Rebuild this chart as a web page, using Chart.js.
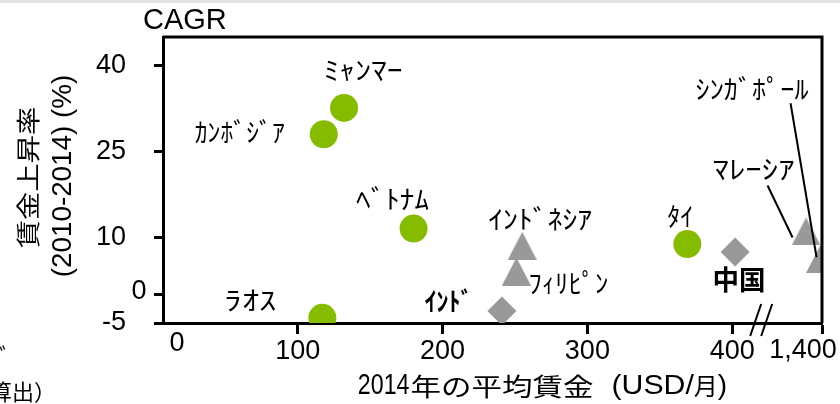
<!DOCTYPE html>
<html>
<head>
<meta charset="utf-8">
<script src="https://cdn.jsdelivr.net/npm/chart.js@4.4.1/dist/chart.umd.min.js"></script>
<style>
  html, body { margin: 0; padding: 0; background: #fff; }
  #wrap { position: relative; width: 840px; height: 404px; }
</style>
</head>
<body>
<div id="wrap"><canvas id="c"></canvas></div>
<script>
// ---- data: 2014 average monthly wage (USD) vs. wage CAGR 2010-2014 (%) ----
const circleCountries = ['ﾐｬﾝﾏｰ', 'ｶﾝﾎﾞｼﾞｱ', 'ﾍﾞﾄﾅﾑ', 'ﾗｵｽ', 'ﾀｲ'];
const circleWages     = [132, 118, 180, 117, 369];
const circleGrowth    = [32.6, 28.0, 11.5, -4.1, 8.8];

const triangleCountries = ['ｲﾝﾄﾞﾈｼｱ', 'ﾌｨﾘﾋﾟﾝ', 'ﾏﾚｰｼｱ', 'ｼﾝｶﾞﾎﾟｰﾙ'];
const triangleWages     = [255, 251, 1389, 1399];
const triangleGrowth    = [8.5, 4.0, 11.0, 6.2];

const diamondCountries = ['中国', 'ｲﾝﾄﾞ'];
const diamondWages     = [402, 241];
const diamondGrowth    = [7.4, -2.9];

const xTickValues = [100, 200, 300, 400, 1400];
const yTickValues = [-5, 0, 10, 25, 40];

// ---- broken x axis: everything above the break is shifted left by GAP ----
const GAP = 938;
const BREAK_AT = 420;
const toAxis = w => (w > 1000 ? w - GAP : w);
const fromAxis = v => (v > BREAK_AT + 5 ? v + GAP : v);

const GREEN = '#86bc00';
const GRAY = '#999999';
const LATIN = '"Liberation Sans", Arial, sans-serif';
const CJK = '"Noto Sans CJK JP", sans-serif';

// label placement around each marker (pixels from the marker centre)
const labelStyle = {
  'ﾐｬﾝﾏｰ':     { dx: 19,    dy: -37.5, w: 79 },
  'ｶﾝﾎﾞｼﾞｱ':   { dx: -84,   dy: -2.5,  w: 90 },
  'ﾍﾞﾄﾅﾑ':     { dx: -21,   dy: -29,   w: 73 },
  'ﾗｵｽ':       { dx: -72,   dy: -18,   w: 52 },
  'ﾀｲ':        { dx: -7,    dy: -28,   w: 26 },
  'ｲﾝﾄﾞﾈｼｱ':   { dx: 18,    dy: -26.5, w: 104 },
  'ﾌｨﾘﾋﾟﾝ':    { dx: 52,    dy: 12,    w: 80 },
  'ﾏﾚｰｼｱ':     { dx: -52.5, dy: -62,   w: 82,  leader: [-38.5, -46, -13.5, 6] },
  'ｼﾝｶﾞﾎﾟｰﾙ':  { dx: -68.5, dy: -170,  w: 113, leader: [-30, -155.7, -4, -1.7] },
  '中国':       { dx: 4,     dy: 28,    w: 53,  bold: true, size: 27 },
  'ｲﾝﾄﾞ':      { dx: -53.5, dy: -10,   w: 48,  bold: true }
};

// isosceles triangle marker
function makeTriangle(w, h, color) {
  const c = document.createElement('canvas');
  c.width = w; c.height = h;
  const g = c.getContext('2d');
  g.fillStyle = color;
  g.beginPath();
  g.moveTo(w / 2, 0);
  g.lineTo(w, h);
  g.lineTo(0, h);
  g.closePath();
  g.fill();
  return c;
}
const triangleMarker = makeTriangle(29, 28, GRAY);

// draw a sequence of text runs, each with its own font and horizontal scale
function drawRuns(ctx, runs, x, y, align, angle) {
  ctx.save();
  let total = 0;
  const widths = runs.map(r => {
    ctx.font = r.font;
    const w = ctx.measureText(r.t).width * (r.sx || 1);
    total += (r.gap || 0) + w;
    return w;
  });
  ctx.translate(x, y);
  if (angle) ctx.rotate(angle);
  ctx.textBaseline = 'middle';
  ctx.textAlign = 'left';
  ctx.fillStyle = '#000';
  let cur = align === 'center' ? -total / 2 : (align === 'right' ? -total : 0);
  runs.forEach((r, i) => {
    cur += r.gap || 0;
    ctx.save();
    ctx.font = r.font;
    ctx.translate(cur, 0);
    ctx.scale(r.sx || 1, 1);
    ctx.fillText(r.t, 0, 0);
    ctx.restore();
    cur += widths[i];
  });
  ctx.restore();
}

// text fitted to a given width
function drawFitted(ctx, text, x, y, font, width) {
  ctx.save();
  ctx.font = font;
  const sx = width / ctx.measureText(text).width;
  ctx.restore();
  drawRuns(ctx, [{ t: text, font: font, sx: sx }], x, y, 'center', 0);
}

const decorations = {
  id: 'decorations',
  beforeDraw(chart) {
    const ctx = chart.ctx;
    ctx.save();
    ctx.fillStyle = '#e1e1e1';
    ctx.fillRect(0, 0, chart.width, 3);
    ctx.restore();
  },
  afterDatasetsDraw(chart) {
    const ctx = chart.ctx;
    const a = chart.chartArea;
    const xs = chart.scales.x;
    const ys = chart.scales.y;

    // top and right frame
    ctx.save();
    ctx.strokeStyle = '#000';
    ctx.lineWidth = 3;
    ctx.beginPath();
    ctx.moveTo(a.left, a.top);
    ctx.lineTo(a.right, a.top);
    ctx.lineTo(a.right, a.bottom);
    ctx.stroke();

    // axis break marks
    const bx = xs.getPixelForValue(BREAK_AT);
    ctx.lineWidth = 2;
    [-5.5, 5.5].forEach(k => {
      ctx.beginPath();
      ctx.moveTo(bx + k - 5.5, a.bottom + 13);
      ctx.lineTo(bx + k + 5.5, a.bottom - 19);
      ctx.stroke();
    });
    ctx.restore();

    // country labels and leader lines
    const groups = [
      [circleCountries, 0],
      [triangleCountries, 1],
      [diamondCountries, 2]
    ];
    groups.forEach(([names, di]) => {
      const meta = chart.getDatasetMeta(di);
      names.forEach((name, i) => {
        const pt = meta.data[i];
        const s = labelStyle[name];
        const font = (s.bold ? 'bold ' : '') + (s.size || 26) + 'px ' + CJK;
        drawFitted(ctx, name, pt.x + s.dx, pt.y + s.dy, font, s.w);
        if (s.leader) {
          ctx.save();
          ctx.strokeStyle = '#000';
          ctx.lineWidth = 2;
          ctx.beginPath();
          ctx.moveTo(pt.x + s.leader[0], pt.y + s.leader[1]);
          ctx.lineTo(pt.x + s.leader[2], pt.y + s.leader[3]);
          ctx.stroke();
          ctx.restore();
        }
      });
    });

    // origin labels and the last tick label beyond the break
    drawRuns(ctx, [{ t: '0', font: '27px ' + LATIN }], a.left + 14, a.bottom + 21, 'center', 0);
    drawRuns(ctx, [{ t: '0', font: '27px ' + LATIN }], a.left - 24, ys.getPixelForValue(0) - 3, 'center', 0);
    drawRuns(ctx, [{ t: fromAxis(xs.max).toLocaleString('en-US'), font: '27px ' + LATIN }],
      xs.getPixelForValue(xs.max) - 19, a.bottom + 28, 'center', 0);

    // unit label
    drawRuns(ctx, [{ t: 'CAGR', font: '29px ' + LATIN }], 143, 21, 'left', 0);

    // x axis title
    drawRuns(ctx, [
      { t: '2014', font: '29px ' + LATIN, sx: 0.8 },
      { t: '年の平均賃金', font: '25px ' + CJK, sx: 1.22, gap: 1 },
      { t: '(USD/', font: '28px ' + LATIN, sx: 1.08, gap: 18 },
      { t: '月', font: '24px ' + CJK },
      { t: ')', font: '28px ' + LATIN }
    ], 542.5, 386, 'center', 0);

    // y axis title (two rotated lines)
    drawRuns(ctx, [{ t: '賃金上昇率', font: '24px ' + CJK, sx: 1.18 }], 27.5, 177.5, 'center', -Math.PI / 2);
    drawRuns(ctx, [{ t: '(2010-2014) (%)', font: '27px ' + LATIN, sx: 1.03 }], 64, 176, 'center', -Math.PI / 2);

    // source note (cut at the left edge)
    drawRuns(ctx, [{ t: 'ﾊﾞ', font: '24px ' + CJK }], 11, 357, 'right', 0);
    drawRuns(ctx, [{ t: '算出）', font: '22px ' + CJK }], 56, 392, 'right', 0);
  }
};

const pts = (wages, growth) => wages.map((w, i) => ({ x: toAxis(w), y: growth[i] }));

new Chart(document.getElementById('c'), {
  type: 'scatter',
  data: {
    datasets: [
      {
        data: pts(circleWages, circleGrowth),
        pointStyle: 'circle', pointRadius: 14, pointHoverRadius: 14,
        backgroundColor: GREEN, borderWidth: 0
      },
      {
        data: pts(triangleWages, triangleGrowth),
        pointStyle: triangleMarker, pointRadius: 14,
        backgroundColor: GRAY, borderWidth: 0,
        clip: { left: false, top: false, right: 0, bottom: false }
      },
      {
        data: pts(diamondWages, diamondGrowth),
        pointStyle: 'rectRot', pointRadius: 14.5, pointHoverRadius: 14.5,
        backgroundColor: GRAY, borderWidth: 0
      }
    ]
  },
  options: {
    responsive: true,
    maintainAspectRatio: false,
    animation: false,
    events: [],
    layout: { padding: { left: 0, right: 18, top: 37, bottom: 0 } },
    plugins: { legend: { display: false }, tooltip: { enabled: false } },
    scales: {
      x: {
        type: 'linear',
        min: 7,
        max: toAxis(1400),
        afterBuildTicks: s => { s.ticks = xTickValues.map(v => ({ value: toAxis(v) })); },
        afterFit: s => { s.height = 81; s.paddingLeft = 0; s.paddingRight = 0; },
        border: { display: true, color: '#000', width: 3 },
        grid: { drawOnChartArea: false, drawTicks: true, tickLength: 11, tickWidth: 3, tickColor: '#000' },
        ticks: {
          autoSkip: false, maxRotation: 0, padding: 1, color: '#000',
          font: { family: LATIN, size: 27 },
          callback: v => (v > BREAK_AT ? '' : fromAxis(v).toLocaleString('en-US'))
        }
      },
      y: {
        type: 'linear',
        min: -5,
        max: 45,
        afterBuildTicks: s => { s.ticks = yTickValues.map(v => ({ value: v })); },
        afterFit: s => { s.width = 163; s.paddingTop = 0; s.paddingBottom = 0; },
        border: { display: true, color: '#000', width: 3 },
        grid: { drawOnChartArea: false, drawTicks: true, tickLength: 9, tickWidth: 3, tickColor: '#000' },
        ticks: {
          autoSkip: false, padding: 28, color: '#000',
          font: { family: LATIN, size: 27 },
          // the zero label sits closer to the axis and is drawn separately
          callback: v => (v === 0 ? '' : String(v))
        }
      }
    }
  },
  plugins: [decorations]
});
</script>
</body>
</html>
